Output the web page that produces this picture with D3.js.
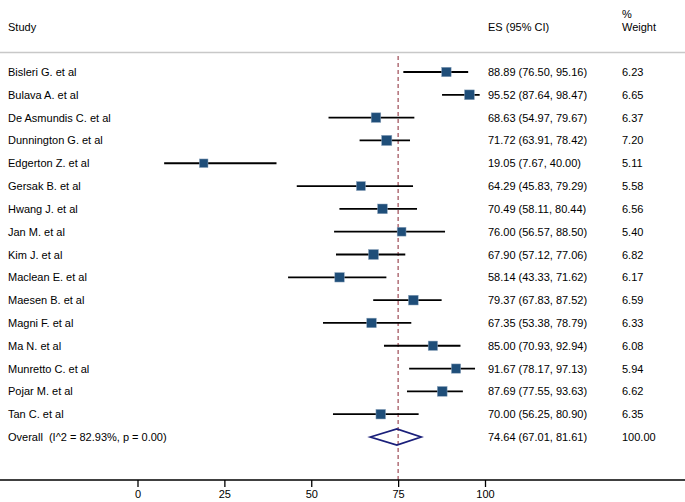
<!DOCTYPE html>
<html>
<head>
<meta charset="utf-8">
<script src="https://cdn.jsdelivr.net/npm/d3@7"></script>
<style>
  body { margin: 0; background: #fff; }
  svg { display: block; font-family: "Liberation Sans", Arial, sans-serif; }
  text { white-space: pre; }
</style>
</head>
<body>
<svg id="chart" width="685" height="502"></svg>
<script>
// study rows
const studies = [
  "Bisleri G. et al", "Bulava A. et al", "De Asmundis C. et al", "Dunnington G. et al",
  "Edgerton Z. et al", "Gersak B. et al", "Hwang J. et al", "Jan M. et al",
  "Kim J. et al", "Maclean E. et al", "Maesen B. et al", "Magni F. et al",
  "Ma N. et al", "Munretto C. et al", "Pojar M. et al", "Tan C. et al"
];
const es    = [88.89, 95.52, 68.63, 71.72, 19.05, 64.29, 70.49, 76.00, 67.90, 58.14, 79.37, 67.35, 85.00, 91.67, 87.69, 70.00];
const lower = [76.50, 87.64, 54.97, 63.91, 7.67, 45.83, 58.11, 56.57, 57.12, 43.33, 67.83, 53.38, 70.93, 78.17, 77.55, 56.25];
const upper = [95.16, 98.47, 79.67, 78.42, 40.00, 79.29, 80.44, 88.50, 77.06, 71.62, 87.52, 78.79, 92.94, 97.13, 93.63, 80.90];
const weight = [6.23, 6.65, 6.37, 7.20, 5.11, 5.58, 6.56, 5.40, 6.82, 6.17, 6.59, 6.33, 6.08, 5.94, 6.62, 6.35];

// pooled estimate
const overallLabel = "Overall  (I^2 = 82.93%, p = 0.00)";
const overall = { es: 74.64, lower: 67.01, upper: 81.61, weight: 100.00 };
const refValue = 75;
const ticks = [0, 25, 50, 75, 100];

const svg = d3.select("#chart");
const W = 685, H = 502;

const x = d3.scaleLinear().domain([0, 100]).range([137.5, 485]);
const rows = studies.concat(["Overall"]);
const y = d3.scalePoint().domain(rows).range([72, 437]);

const axisY = 480;
const fmt = d3.format(".2f");

// header
svg.append("text").attr("x", 8).attr("y", 31).attr("font-size", 11).text("Study");
svg.append("text").attr("x", 488).attr("y", 31).attr("font-size", 11).text("ES (95% CI)");
svg.append("text").attr("x", 622).attr("y", 18).attr("font-size", 11).text("%");
svg.append("text").attr("x", 622).attr("y", 31).attr("font-size", 11).text("Weight");

svg.append("line")
  .attr("x1", 0).attr("x2", W).attr("y1", 52.5).attr("y2", 52.5)
  .attr("stroke", "#c8c8c8").attr("stroke-width", 1.5);

// reference line
svg.append("line")
  .attr("x1", x(refValue)).attr("x2", x(refValue))
  .attr("y1", 56).attr("y2", axisY)
  .attr("stroke", "#9e4a55").attr("stroke-width", 1.2)
  .attr("stroke-dasharray", "4,3");

// study rows
const g = svg.selectAll(".row")
  .data(studies.map((s, i) => ({ s, es: es[i], lo: lower[i], hi: upper[i], w: weight[i] })))
  .enter().append("g").attr("class", "row");

g.append("line")
  .attr("x1", d => x(d.lo)).attr("x2", d => x(d.hi))
  .attr("y1", d => y(d.s)).attr("y2", d => y(d.s))
  .attr("stroke", "#000").attr("stroke-width", 1.8);

g.append("rect")
  .attr("x", d => x(d.es) - 1.9 * Math.sqrt(d.w))
  .attr("y", d => y(d.s) - 1.9 * Math.sqrt(d.w))
  .attr("width", d => 3.8 * Math.sqrt(d.w))
  .attr("height", d => 3.8 * Math.sqrt(d.w))
  .attr("fill", "#1f4e79")
  .attr("stroke", "#8fa6bd").attr("stroke-width", 0.5);

g.append("text")
  .attr("x", 8).attr("y", d => y(d.s) + 4)
  .attr("font-size", 11).text(d => d.s);

g.append("text")
  .attr("x", 488).attr("y", d => y(d.s) + 4)
  .attr("font-size", 11)
  .text(d => `${fmt(d.es)} (${fmt(d.lo)}, ${fmt(d.hi)})`);

g.append("text")
  .attr("x", 622).attr("y", d => y(d.s) + 4)
  .attr("font-size", 11).text(d => fmt(d.w));

// overall diamond
const oy = y("Overall");
svg.append("path")
  .attr("d", `M${x(overall.lower)},${oy} L${x(overall.es)},${oy - 8} L${x(overall.upper)},${oy} L${x(overall.es)},${oy + 8} Z`)
  .attr("fill", "none").attr("stroke", "#1a1f7a").attr("stroke-width", 1.8);

svg.append("text").attr("x", 8).attr("y", oy + 4).attr("font-size", 11).text(overallLabel);
svg.append("text").attr("x", 488).attr("y", oy + 4).attr("font-size", 11)
  .text(`${fmt(overall.es)} (${fmt(overall.lower)}, ${fmt(overall.upper)})`);
svg.append("text").attr("x", 622).attr("y", oy + 4).attr("font-size", 11).text(fmt(overall.weight));

// x axis
const axis = svg.append("g")
  .attr("transform", `translate(0,${axisY})`)
  .call(d3.axisBottom(x).tickValues(ticks).tickSize(7).tickPadding(3).tickFormat(d3.format("d")));
axis.select(".domain").remove();
axis.selectAll(".tick line").attr("stroke", "#000").attr("stroke-width", 1.3);
axis.selectAll("text").attr("font-size", 11).attr("font-family", "Liberation Sans, Arial, sans-serif").attr("fill", "#000");
svg.append("line")
  .attr("x1", 0).attr("x2", W).attr("y1", axisY).attr("y2", axisY)
  .attr("stroke", "#000").attr("stroke-width", 1.5);
</script>
</body>
</html>
